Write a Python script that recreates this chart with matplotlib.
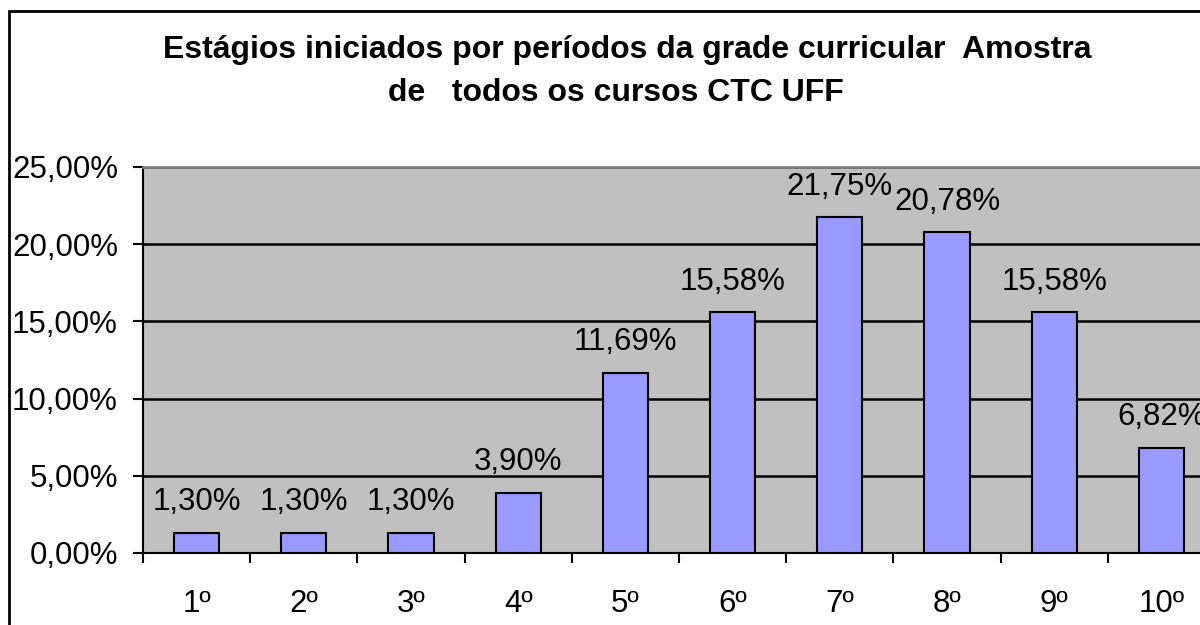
import numpy as np
import matplotlib.pyplot as plt
from matplotlib.patches import Rectangle

plt.rcParams['font.family'] = ['Liberation Sans', 'DejaVu Sans']

periodos = ['1º', '2º', '3º', '4º', '5º', '6º', '7º', '8º', '9º', '10º']
percentuais = [1.30, 1.30, 1.30, 3.90, 11.69, 15.58, 21.75, 20.78, 15.58, 6.82]
titulo_l1 = 'Estágios iniciados por períodos da grade curricular  Amostra'
titulo_l2 = 'de   todos os cursos CTC UFF'


def fmt(v):
    return f'{v:.2f}'.replace('.', ',') + '%'


fig = plt.figure(figsize=(12, 6.25), dpi=100)

# moldura externa do gráfico (cortada à direita e embaixo)
fig.patches.append(Rectangle((9 / 1200, -0.1), 1.2, 1 - 11 / 625 + 0.1,
                             transform=fig.transFigure, fill=False,
                             edgecolor='black', linewidth=2))

ax = fig.add_axes([143 / 1200, 1 - 553 / 625, 1072 / 1200, 386 / 625])
ax.set_facecolor('#C0C0C0')

x = np.arange(len(periodos))
ax.bar(x, percentuais, width=0.42, color='#9999FF', edgecolor='black',
       linewidth=1.5, zorder=3)

for xi, v in zip(x, percentuais):
    ax.annotate(fmt(v), (xi, v), xytext=(0, 22), textcoords='offset points',
                ha='center', va='center', fontsize=22.5, zorder=4)

ax.set_xlim(-0.5, len(periodos) - 0.5)
ax.set_ylim(0, 25)
yt = np.arange(0, 26, 5)
ax.set_yticks(yt)
ax.set_yticklabels([fmt(v) for v in yt], fontsize=22.5)
ax.tick_params(axis='y', length=7, width=1.5, pad=11)

ax.set_xticks(x)
ax.set_xticklabels(periodos, fontsize=22.5)
ax.tick_params(axis='x', which='major', length=0, pad=26)
ax.set_xticks(np.arange(-0.5, len(periodos) - 0.4, 1), minor=True)
ax.tick_params(axis='x', which='minor', length=7, width=1.5, direction='out')

for v in yt[1:]:
    ax.axhline(v, color='black', linewidth=1.8, zorder=2)

ax.spines['left'].set_linewidth(1.5)
ax.spines['bottom'].set_linewidth(1.5)
ax.spines['top'].set_color('#808080')
ax.spines['top'].set_linewidth(2)
ax.spines['right'].set_color('#808080')

fig.text(163 / 1200, 1 - 50 / 625, titulo_l1, ha='left', va='center',
         fontsize=23, fontweight='bold')
fig.text(388 / 1200, 1 - 93 / 625, titulo_l2, ha='left', va='center',
         fontsize=23, fontweight='bold')

fig.savefig('out.png', dpi=100)
